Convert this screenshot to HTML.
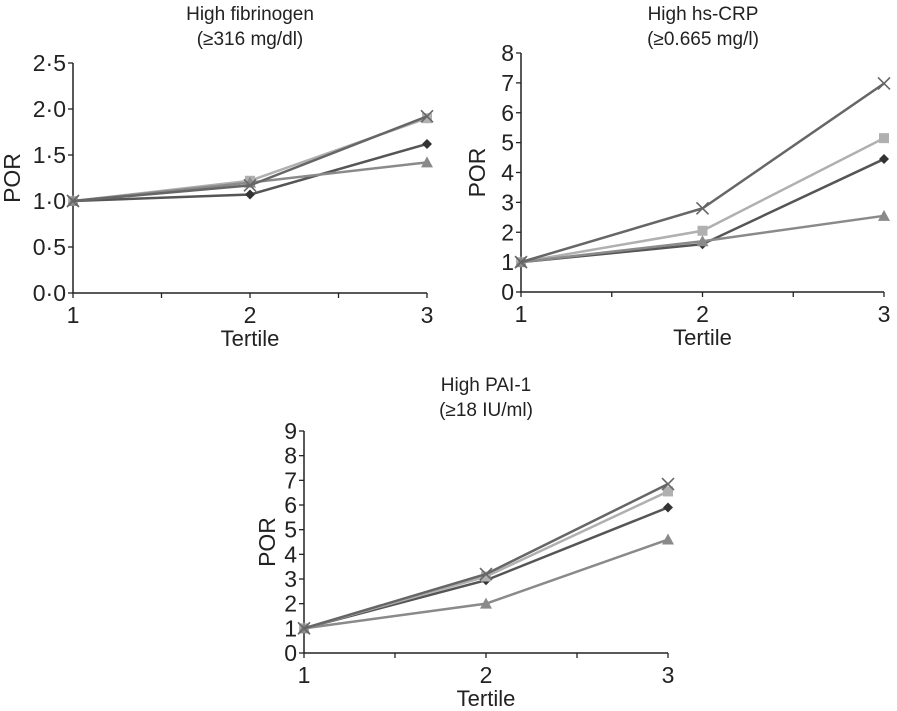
<!DOCTYPE html>
<html><head><meta charset="utf-8"><style>
html,body{margin:0;padding:0;background:#fff;}
svg{display:block;font-family:"Liberation Sans",sans-serif;}
</style></head><body>
<svg id="s" width="897" height="711" viewBox="0 0 897 711"></svg>
<script>
const categories=[1,2,3];
const seriesNames=["diamond","square","triangle","cross"];
const fibDiamond=[1,1.07,1.62], fibSquare=[1,1.22,1.9], fibTriangle=[1,1.2,1.42], fibCross=[1,1.17,1.92];
const crpDiamond=[1,1.6,4.45], crpSquare=[1,2.05,5.15], crpTriangle=[1,1.7,2.55], crpCross=[1,2.8,6.98];
const paiDiamond=[1,2.95,5.9], paiSquare=[1,3.1,6.55], paiTriangle=[1,2.0,4.6], paiCross=[1,3.2,6.85];
const fibTicks=["0·0","0·5","1·0","1·5","2·0","2·5"];
const crpTicks=["0","1","2","3","4","5","6","7","8"];
const paiTicks=["0","1","2","3","4","5","6","7","8","9"];

const NS="http://www.w3.org/2000/svg";
const svg=document.getElementById('s');
function mk(tag,attrs,parent){const e=document.createElementNS(NS,tag);for(const k in attrs)e.setAttribute(k,attrs[k]);(parent||svg).appendChild(e);return e;}
const colors={diamond:"#555",square:"#b0b0b0",triangle:"#8a8a8a",cross:"#666"};

function chart(cfg){
  const g=mk('g',{});
  
  
  const xs=v=>cfg.x0+(v-1)*(cfg.x1-cfg.x0)/2;
  const ys=v=>cfg.y0-(v/cfg.ymax)*(cfg.y0-cfg.y1);
  const t1=mk('text',{x:cfg.cx,y:cfg.ty,'text-anchor':'middle','font-size':19,fill:'#222'},g);t1.textContent=cfg.title1;
  
  const t2=mk('text',{x:cfg.cx,y:cfg.ty+25,'text-anchor':'middle','font-size':19,fill:'#222'},g);t2.textContent=cfg.title2;
  
  const ax=mk('path',{d:`M${cfg.x0},${cfg.y1}V${cfg.y0}H${cfg.x1}`,stroke:'#222','stroke-width':1.5,fill:'none'},g);
  
  cfg.ticks.forEach((lab,i)=>{
    const v=i*cfg.step,y=ys(v);
    mk('line',{x1:cfg.x0-5,x2:cfg.x0,y1:y,y2:y,stroke:'#222','stroke-width':1.3},g);
    const t=mk('text',{x:cfg.x0-7,y:y+8,'text-anchor':'end','font-size':23,fill:'#222'},g);t.textContent=lab;
    
  });
  [1,1.5,2,2.5,3].forEach(v=>mk('line',{x1:xs(v),x2:xs(v),y1:cfg.y0,y2:cfg.y0+5,stroke:'#222','stroke-width':1.3},g));
  categories.forEach(c=>{const t=mk('text',{x:xs(c),y:cfg.y0+30,'text-anchor':'middle','font-size':23,fill:'#222'},g);t.textContent=c;
    });
  const xt=mk('text',{x:xs(2),y:cfg.y0+53,'text-anchor':'middle','font-size':22,fill:'#222'},g);xt.textContent="Tertile";
  
  const yt=mk('text',{x:0,y:0,'text-anchor':'middle','font-size':23,fill:'#222',transform:`translate(${cfg.px},${(cfg.y0+cfg.y1)/2}) rotate(-90)`},g);yt.textContent="POR";
  
  cfg.series.forEach((vals,si)=>{
    const nm=seriesNames[si],col=colors[nm];
    const pts=vals.map((v,i)=>[xs(categories[i]),ys(v)]);
    const pl=mk('polyline',{points:pts.map(p=>p.join(',')).join(' '),fill:'none',stroke:col,'stroke-width':2.5},g);
    
    pts.forEach(([x,y])=>{
      let m;
      if(nm==='diamond')m=mk('path',{d:`M${x},${y-5}L${x+5},${y}L${x},${y+5}L${x-5},${y}Z`,fill:'#333'},g);
      else if(nm==='square')m=mk('rect',{x:x-5,y:y-5,width:10,height:10,fill:col},g);
      else if(nm==='triangle')m=mk('path',{d:`M${x},${y-6}L${x+6},${y+5}L${x-6},${y+5}Z`,fill:col},g);
      else m=mk('path',{d:`M${x-6},${y-6}L${x+6},${y+6}M${x+6},${y-6}L${x-6},${y+6}`,stroke:col,'stroke-width':1.6},g);
      
    });
  });
}
chart({name:'chart-fibrinogen',x0:73,x1:427,y0:293,y1:63,ymax:2.5,step:0.5,ticks:fibTicks,cx:250,ty:20,title1:"High fibrinogen",title2:"(≥316 mg/dl)",px:20,
  series:[fibDiamond,fibSquare,fibTriangle,fibCross]});
chart({name:'chart-hscrp',x0:521,x1:884,y0:292,y1:53,ymax:8,step:1,ticks:crpTicks,cx:703,ty:20,title1:"High hs-CRP",title2:"(≥0.665 mg/l)",px:485,
  series:[crpDiamond,crpSquare,crpTriangle,crpCross]});
chart({name:'chart-pai1',x0:304,x1:668,y0:653,y1:431,ymax:9,step:1,ticks:paiTicks,cx:486,ty:391,title1:"High PAI-1",title2:"(≥18 IU/ml)",px:275,
  series:[paiDiamond,paiSquare,paiTriangle,paiCross]});
</script>
</body></html>
